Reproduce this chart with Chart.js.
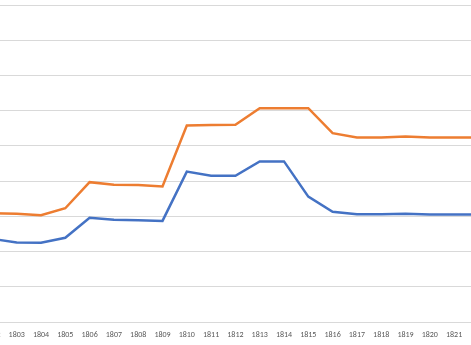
<!DOCTYPE html>
<html>
<head>
<meta charset="utf-8">
<script src="https://cdn.jsdelivr.net/npm/chart.js@4"></script>
<style>
  html, body { margin: 0; padding: 0; background: #fff; overflow: hidden; }
  body { width: 471px; height: 345px; position: relative; }
  #wrap { position: absolute; left: -30px; top: 0; width: 530px; height: 345px; }
</style>
</head>
<body>
<div id="wrap"><canvas id="chart" width="530" height="345"></canvas></div>
<script>
const years = ["1802", "1803", "1804", "1805", "1806", "1807", "1808", "1809", "1810", "1811", "1812",
  "1813", "1814", "1815", "1816", "1817", "1818", "1819", "1820", "1821", "1822"];

const blueSeries = [2.36, 2.26, 2.25, 2.39, 2.96, 2.90, 2.89, 2.87, 4.27, 4.15, 4.15,
  4.56, 4.56, 3.56, 3.13, 3.06, 3.06, 3.07, 3.05, 3.05, 3.05];

const orangeSeries = [3.09, 3.07, 3.03, 3.23, 3.97, 3.90, 3.89, 3.85, 5.58, 5.59, 5.60,
  6.07, 6.07, 6.07, 5.36, 5.24, 5.24, 5.27, 5.24, 5.24, 5.24];

const yTicks = { min: 0, max: 9, step: 1 };

const ctx = document.getElementById("chart").getContext("2d");

new Chart(ctx, {
  type: "line",
  data: {
    labels: years,
    datasets: [
      {
        data: blueSeries,
        borderColor: "#4472C4",
        borderWidth: 2.5,
        pointRadius: 0,
        tension: 0,
        fill: false,
      },
      {
        data: orangeSeries,
        borderColor: "#ED7D31",
        borderWidth: 2.5,
        pointRadius: 0,
        tension: 0,
        fill: false,
      },
    ],
  },
  options: {
    responsive: false,
    animation: false,
    devicePixelRatio: 1,
    layout: { padding: { left: 10.25, right: 9.45, top: 5, bottom: 0 } },
    plugins: { legend: { display: false }, tooltip: { enabled: false } },
    scales: {
      x: {
        offset: true,
        grid: { display: false },
        border: { display: false },
        ticks: {
          color: "#595959",
          font: { family: "Calibri, Carlito, 'Liberation Sans', sans-serif", size: 8 },
          padding: 0,
          maxRotation: 0,
          autoSkip: false,
        },
        afterFit: (scale) => { scale.height = 23; },
      },
      y: {
        min: yTicks.min,
        max: yTicks.max,
        ticks: { display: false, stepSize: yTicks.step },
        grid: { color: "#D9D9D9", lineWidth: 1, drawTicks: false },
        border: { display: false },
        afterFit: (scale) => { scale.width = 0; },
      },
    },
  },
});
</script>
</body>
</html>
